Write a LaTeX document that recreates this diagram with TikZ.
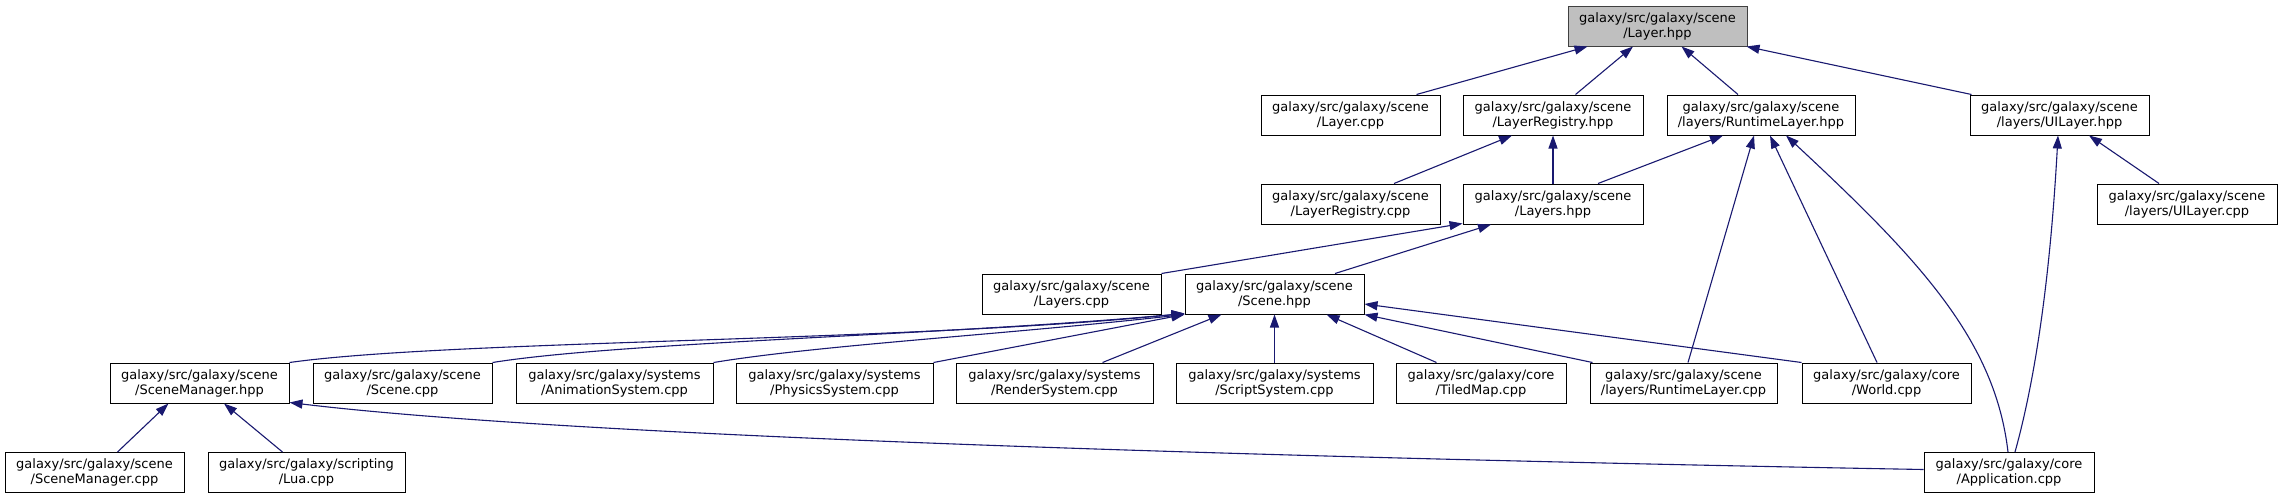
\documentclass[tikz,border=0pt]{standalone}
\usepackage{fontspec}
\setmainfont{DejaVu Sans}
\usetikzlibrary{arrows.meta}
\definecolor{edgeblue}{HTML}{191970}
\definecolor{hdrfill}{HTML}{BFBFBF}
\definecolor{hdrdraw}{HTML}{404040}
\begin{document}
\begin{tikzpicture}[x=1pt,y=-1pt,
  box/.style={draw=black, fill=white, line width=1pt, minimum height=40pt, inner sep=0pt, align=center, font=\fontsize{13}{15}\selectfont},
  focus/.style={box, draw=hdrdraw, fill=hdrfill},
  dep/.style={draw=edgeblue, line width=1.1pt, -{Triangle[length=13pt,width=9pt]}, edgeblue}]
\useasboundingbox (0,0) rectangle (2281,499);
\fill[white] (0,0) rectangle (2281,499);
% row 1
\node[focus, minimum width=179pt] (lh) at (1657.5,26) {galaxy/src/galaxy/scene\\/Layer.hpp};
% row 2
\node[box, minimum width=179pt] (lcpp) at (1350.5,115) {galaxy/src/galaxy/scene\\/Layer.cpp};
\node[box, minimum width=180pt] (lrh) at (1553,115) {galaxy/src/galaxy/scene\\/LayerRegistry.hpp};
\node[box, minimum width=188pt] (rlh) at (1761,115) {galaxy/src/galaxy/scene\\/layers/RuntimeLayer.hpp};
\node[box, minimum width=179pt] (uih) at (2059.5,115) {galaxy/src/galaxy/scene\\/layers/UILayer.hpp};
% row 3
\node[box, minimum width=179pt] (lrcpp) at (1350.5,204) {galaxy/src/galaxy/scene\\/LayerRegistry.cpp};
\node[box, minimum width=180pt] (lsh) at (1553,204) {galaxy/src/galaxy/scene\\/Layers.hpp};
\node[box, minimum width=180pt] (uicpp) at (2187,204) {galaxy/src/galaxy/scene\\/layers/UILayer.cpp};
% row 4
\node[box, minimum width=179pt] (lscpp) at (1071.5,294) {galaxy/src/galaxy/scene\\/Layers.cpp};
\node[box, minimum width=179pt] (sh) at (1274.5,294) {galaxy/src/galaxy/scene\\/Scene.hpp};
% row 5
\node[box, minimum width=179pt] (smh) at (199.5,383) {galaxy/src/galaxy/scene\\/SceneManager.hpp};
\node[box, minimum width=179pt] (scpp) at (402.5,383) {galaxy/src/galaxy/scene\\/Scene.cpp};
\node[box, minimum width=197pt] (anim) at (614.5,383) {galaxy/src/galaxy/systems\\/AnimationSystem.cpp};
\node[box, minimum width=197pt] (phys) at (834.5,383) {galaxy/src/galaxy/systems\\/PhysicsSystem.cpp};
\node[box, minimum width=197pt] (rend) at (1054.5,383) {galaxy/src/galaxy/systems\\/RenderSystem.cpp};
\node[box, minimum width=197pt] (scr) at (1274.5,383) {galaxy/src/galaxy/systems\\/ScriptSystem.cpp};
\node[box, minimum width=170pt] (tiled) at (1481,383) {galaxy/src/galaxy/core\\/TiledMap.cpp};
\node[box, minimum width=187pt] (rlcpp) at (1683.5,383) {galaxy/src/galaxy/scene\\/layers/RuntimeLayer.cpp};
\node[box, minimum width=169pt] (world) at (1886.5,383) {galaxy/src/galaxy/core\\/World.cpp};
% row 6
\node[box, minimum width=179pt] (smcpp) at (94.5,472.5) {galaxy/src/galaxy/scene\\/SceneManager.cpp};
\node[box, minimum width=197pt] (lua) at (306.5,472.5) {galaxy/src/galaxy/scripting\\/Lua.cpp};
\node[box, minimum width=170pt] (app) at (2009,472.5) {galaxy/src/galaxy/core\\/Application.cpp};
% edges to Layer.hpp
\draw[dep] ([xshift=66pt]lcpp.north) -- ([xshift=20pt]lh.south west);
\draw[dep] ([xshift=22.5pt]lrh.north) -- ([xshift=-24.5pt]lh.south);
\draw[dep] ([xshift=-23pt]rlh.north) -- ([xshift=24pt]lh.south);
\draw[dep] ([xshift=2pt]uih.north west) -- ([xshift=-1pt]lh.south east);
% edges to LayerRegistry.hpp
\draw[dep] ([xshift=43.5pt]lrcpp.north) -- ([xshift=-41pt]lrh.south);
\draw[dep] (lsh.north) -- (lrh.south);
% edges to RuntimeLayer.hpp
\draw[dep] ([xshift=45pt]lsh.north) -- ([xshift=-38pt]rlh.south);
\draw[dep] ([xshift=4.5pt]rlcpp.north) -- ([xshift=-7pt]rlh.south);
\draw[dep] ([xshift=-9.5pt]world.north) -- ([xshift=9pt]rlh.south);
\draw[dep] ([xshift=-1pt]app.north) .. controls (1995,340) and (1920,260) .. ([xshift=25pt]rlh.south);
% edges to UILayer.hpp
\draw[dep] ([xshift=6pt]app.north) .. controls (2035,380) and (2050,280) .. ([xshift=-1.5pt]uih.south);
\draw[dep] ([xshift=-28pt]uicpp.north) -- ([xshift=29.5pt]uih.south);
% edges to Layers.hpp
\draw[dep] (lscpp.north east) -- ([yshift=1pt]lsh.south west);
\draw[dep] ([xshift=60.5pt]sh.north) -- ([xshift=-62pt]lsh.south);
% edges to Scene.hpp
\draw[dep] (smh.north east) .. controls (450,340) and (900,342) .. ([yshift=1pt]sh.south west);
\draw[dep] (scpp.north east) .. controls (620,342) and (950,335) .. ([yshift=1pt]sh.south west);
\draw[dep] (anim.north east) .. controls (820,345) and (1000,335) .. (sh.south west);
\draw[dep] (phys.north east) -- (sh.south west);
\draw[dep] ([xshift=48pt]rend.north) -- ([xshift=-53pt]sh.south);
\draw[dep] (scr.north) -- (sh.south);
\draw[dep] ([xshift=-44.5pt]tiled.north) -- ([xshift=52pt]sh.south);
\draw[dep] ([xshift=3pt]rlcpp.north west) -- (sh.south east);
\draw[dep] (world.north west) -- ([yshift=-10pt]sh.east);
% edges to SceneManager.hpp
\draw[dep] ([xshift=23pt]smcpp.north) -- ([xshift=-31pt]smh.south);
\draw[dep] ([xshift=-24pt]lua.north) -- ([xshift=24.5pt]smh.south);
\draw[dep] ([yshift=3pt]app.west) .. controls (1400,460) and (600,440) .. ([yshift=1pt]smh.south east);
\end{tikzpicture}
\end{document}
